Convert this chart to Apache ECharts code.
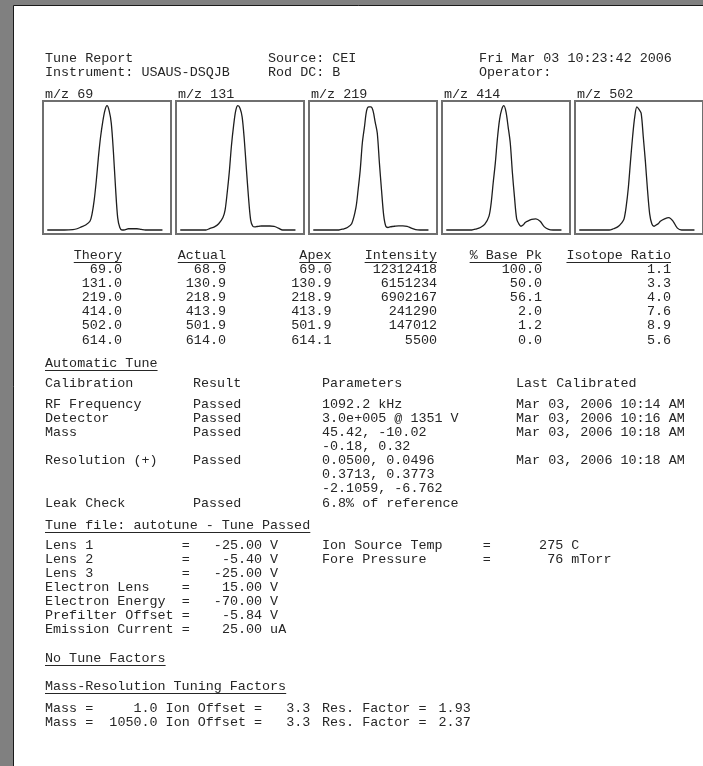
<!DOCTYPE html>
<html>
<head>
<meta charset="utf-8">
<title>Tune Report</title>
<script src="https://cdn.jsdelivr.net/npm/echarts@6/dist/echarts.min.js"></script>
<style>
  html, body { margin: 0; padding: 0; background: #808080; }
  #report { width: 703px; height: 766px; }
</style>
</head>
<body>
<div id="report"></div>
<script>
// ---- Report content ----
const reportHeader = [
  ['Tune Report', 'Source: CEI', 'Fri Mar 03 10:23:42 2006'],
  ['Instrument: USAUS-DSQJB', 'Rod DC: B', 'Operator:']
];

const scanMasses = [69, 131, 219, 414, 502];

// Peak profiles: m/z offset from the nominal mass, relative intensity (%)
const mzOffsets = [-1.4, -1.2, -1.0, -0.8, -0.7, -0.6, -0.5, -0.4, -0.35, -0.3, -0.25, -0.2, -0.15, -0.1, -0.05,
  0, 0.05, 0.1, 0.15, 0.2, 0.25, 0.3, 0.35, 0.4, 0.45, 0.5, 0.6, 0.7, 0.8, 0.9, 1.0, 1.1, 1.2, 1.3];
const profile69  = [0, 0, 0, 0.3, 1, 2.5, 4, 7, 13, 24, 40, 59, 75, 87, 96, 100, 96, 86, 63, 34, 10, 2, 0, 0, 0.5, 1, 1, 1, 0.5, 0, 0, 0, 0, 0];
const profile131 = [0, 0, 0, 0, 1.3, 2.5, 5, 10, 16, 30, 47, 68, 84, 96, 100, 98, 91, 73, 49, 26, 8, 3, 2.5, 2.8, 3, 3.2, 3.2, 3.2, 3, 1.5, 0, 0, 0, 0];
const profile219 = [0, 0, 0, 0, 0.8, 2, 5, 18, 32, 48, 70, 83, 96, 99, 99, 96, 87, 78, 54, 32, 12, 3, 2, 2.5, 2.8, 3, 3.3, 3.3, 3, 1.5, 0.3, 0, 0, 0];
const profile414 = [0, 0, 0, 0, 0.8, 2, 4.5, 11, 21, 38, 54, 74, 89, 97, 100, 95, 83, 70, 46, 26, 9, 5, 3, 4, 6, 7, 8.6, 9, 7, 2.5, 0.5, 0, 0, 0];
const profile502 = [0, 0, 0, 0, 0, 1, 2.5, 6, 9, 19, 34, 55, 75, 91, 99, 97, 94, 75, 55, 32, 13, 5, 3, 4, 5, 7, 9, 10, 7, 1.5, 0, 0, 0, 0];
const profiles = [profile69, profile131, profile219, profile414, profile502];

// Calibration-gas peak table
const tableHeads = ['Theory', 'Actual', 'Apex', 'Intensity', '% Base Pk', 'Isotope Ratio'];
const theoryMass = [69.0, 131.0, 219.0, 414.0, 502.0, 614.0];
const actualMass = [68.9, 130.9, 218.9, 413.9, 501.9, 614.0];
const apexMass = [69.0, 130.9, 218.9, 413.9, 501.9, 614.1];
const intensity = [12312418, 6151234, 6902167, 241290, 147012, 5500];
const basePeakPct = [100.0, 50.0, 56.1, 2.0, 1.2, 0.0];
const isotopeRatio = [1.1, 3.3, 4.0, 7.6, 8.9, 5.6];

// Automatic tune
const calibHeads = ['Calibration', 'Result', 'Parameters', 'Last Calibrated'];
const calibItems = ['RF Frequency', 'Detector', 'Mass', '', 'Resolution (+)', '', '', 'Leak Check'];
const calibResults = ['Passed', 'Passed', 'Passed', '', 'Passed', '', '', 'Passed'];
const calibParams = ['1092.2 kHz', '3.0e+005 @ 1351 V', '45.42, -10.02', '-0.18, 0.32',
  '0.0500, 0.0496', '0.3713, 0.3773', '-2.1059, -6.762', '6.8% of reference'];
const calibDates = ['Mar 03, 2006 10:14 AM', 'Mar 03, 2006 10:16 AM', 'Mar 03, 2006 10:18 AM', '',
  'Mar 03, 2006 10:18 AM', '', '', ''];

// Tune file settings
const lensNames = ['Lens 1', 'Lens 2', 'Lens 3', 'Electron Lens', 'Electron Energy', 'Prefilter Offset', 'Emission Current'];
const lensValues = [-25.00, -5.40, -25.00, 15.00, -70.00, -5.84, 25.00];
const lensUnits = ['V', 'V', 'V', 'V', 'V', 'V', 'uA'];
const sourceNames = ['Ion Source Temp', 'Fore Pressure'];
const sourceValues = [275, 76];
const sourceUnits = ['C', 'mTorr'];

// Mass-resolution tuning factors
const factorMass = [1.0, 1050.0];
const factorIonOffset = [3.3, 3.3];
const factorRes = [1.93, 2.37];

const sectionTitles = ['Automatic Tune', 'Tune file: autotune - Tune Passed', 'No Tune Factors', 'Mass-Resolution Tuning Factors'];

// ---- Layout ----
const FONT = '13.4px "Liberation Mono", "DejaVu Sans Mono", monospace';
const CW = 8.04;            // monospace advance
const INK = '#262626';
const graphics = [];

graphics.push({
  type: 'rect', z: 0, silent: true,
  shape: { x: 13.5, y: 5.5, width: 720, height: 780 },
  style: { fill: '#ffffff', stroke: '#1a1a1a', lineWidth: 1 }
});

function txt(s, x, y, align) {
  if (s === '') return;
  graphics.push({
    type: 'text', z: 10, silent: true,
    style: { text: s, x: x, y: y, font: FONT, fill: INK, textAlign: align || 'left', textVerticalAlign: 'middle' }
  });
}
function underline(x, len, y) {
  const yy = Math.round(y + 6.5) + 0.5;
  graphics.push({
    type: 'line', z: 10, silent: true,
    shape: { x1: x, y1: yy, x2: x + len * CW, y2: yy },
    style: { stroke: INK, lineWidth: 1 }
  });
}

// header
const headX = [45, 268, 479];
reportHeader.forEach((row, r) => row.forEach((s, c) => txt(s, headX[c], 58 + r * 14)));

// peak panels
const panelLeft = 43, panelStep = 133, panelW = 128, panelTop = 101, panelH = 133;
const grids = [], xAxes = [], yAxes = [], series = [];
scanMasses.forEach((m, i) => {
  const left = panelLeft + i * panelStep;
  txt('m/z ' + m, left + 2, 94);
  // panel frame
  graphics.push({
    type: 'rect', z: 20, silent: true,
    shape: { x: left, y: panelTop, width: panelW, height: panelH },
    style: { fill: 'none', stroke: '#6f6f6f', lineWidth: 2 }
  });
  grids.push({ left: left, top: panelTop, width: panelW, height: panelH });
  xAxes.push({ gridIndex: i, type: 'value', min: -1.5, max: 1.5, show: false });
  yAxes.push({ gridIndex: i, type: 'value', min: -3.22, max: 103.78, show: false });
  series.push({
    type: 'line', xAxisIndex: i, yAxisIndex: i, symbol: 'none', smooth: 0.3,
    lineStyle: { color: '#1e1e1e', width: 1.3 }, silent: true, animation: false,
    data: mzOffsets.map((o, k) => [o, profiles[i][k]])
  });
});

// peak table (right-aligned columns)
const colRight = [122, 226, 331.5, 437, 542, 671];
const tableCols = [
  theoryMass.map(v => v.toFixed(1)),
  actualMass.map(v => v.toFixed(1)),
  apexMass.map(v => v.toFixed(1)),
  intensity.map(v => String(v)),
  basePeakPct.map(v => v.toFixed(1)),
  isotopeRatio.map(v => v.toFixed(1))
];
tableHeads.forEach((h, c) => {
  txt(h, colRight[c], 255, 'right');
  underline(colRight[c] - h.length * CW, h.length, 255);
  tableCols[c].forEach((s, r) => txt(s, colRight[c], 269.5 + r * 14.1, 'right'));
});

// automatic tune
txt(sectionTitles[0], 45, 363); underline(45, sectionTitles[0].length, 363);
const calX = [45, 193, 322, 516];
calibHeads.forEach((h, c) => txt(h, calX[c], 383.3));
[calibItems, calibResults, calibParams, calibDates].forEach((col, c) =>
  col.forEach((s, r) => txt(s, calX[c], 404.3 + r * 14.1)));

// tune file
txt(sectionTitles[1], 45, 525); underline(45, sectionTitles[1].length, 525);
lensNames.forEach((n, r) => {
  const y = 545 + r * 14.1;
  txt(n, 45, y);
  txt('=', 45 + 17 * CW, y);
  txt(lensValues[r].toFixed(2), 45 + 27 * CW, y, 'right');
  txt(lensUnits[r], 45 + 28 * CW, y);
});
sourceNames.forEach((n, r) => {
  const y = 545 + r * 14.1;
  txt(n, 322, y);
  txt('=', 322 + 20 * CW, y);
  txt(String(sourceValues[r]), 322 + 30 * CW, y, 'right');
  txt(sourceUnits[r], 322 + 31 * CW, y);
});

// tuning factors
txt(sectionTitles[2], 45, 658); underline(45, sectionTitles[2].length, 658);
txt(sectionTitles[3], 45, 686); underline(45, sectionTitles[3].length, 686);
factorMass.forEach((m, r) => {
  const y = 708 + r * 14.1;
  txt('Mass =', 45, y);
  txt(m.toFixed(1), 45 + 14 * CW, y, 'right');
  txt('Ion Offset =', 45 + 15 * CW, y);
  txt(factorIonOffset[r].toFixed(1), 45 + 33 * CW, y, 'right');
  txt('Res. Factor =', 322, y);
  txt(factorRes[r].toFixed(2), 322 + 14.5 * CW, y);
});

const chart = echarts.init(document.getElementById('report'), null, { renderer: 'canvas' });
chart.setOption({
  animation: false,
  backgroundColor: '#808080',
  graphic: { elements: graphics },
  grid: grids,
  xAxis: xAxes,
  yAxis: yAxes,
  series: series
});
</script>
</body>
</html>
